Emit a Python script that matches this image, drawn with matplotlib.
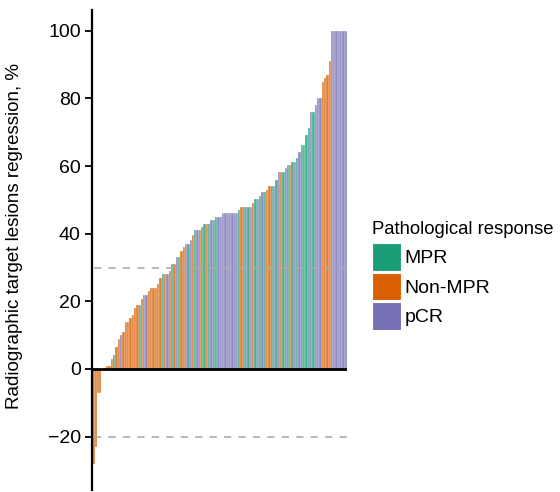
import numpy as np
import matplotlib
matplotlib.use("Agg")
import matplotlib.pyplot as plt
from matplotlib.patches import Patch

plt.rcParams['font.family'] = ['Liberation Sans', 'DejaVu Sans']

# Waterfall values (% regression), sorted ascending
regression = [
    -28, -23, -7, -7, -0.6, -0.4, 1, 1, 2.9, 4.1,
    6.5, 8.9, 10, 11, 14, 14, 15, 16, 18, 19,
    19, 20.7, 22, 22, 23, 24, 24, 24, 25, 27,
    28, 28, 28, 29, 31, 31, 33, 33, 35, 36,
    37, 37, 38, 39.6, 41, 41, 41, 42, 43, 43,
    43, 44, 44, 45, 45, 45, 46, 46, 46, 46,
    46, 46, 46, 47, 48, 48, 48, 48, 48, 49.2,
    50.2, 50.2, 51.2, 52.2, 52.2, 53, 54.2, 54.2, 54.2, 56,
    58.3, 58.3, 58.3, 59.5, 60.2, 60.4, 61.3, 61.3, 62.4, 64.3,
    66.3, 66.3, 69.2, 71.3, 76, 76, 78, 80, 80, 85,
    86, 87, 91.2, 100, 100, 100, 100, 100, 100, 100,
]

# Pathological response per patient (O = Non-MPR, G = MPR, P = pCR)
response = list(
    "OOOOOPOOOG"
    "OOPOOOOOOO"
    "GOPPOOOOOO"
    "GOPOGOPGOO"
    "PGPOGPOGGO"
    "GPGGPPPPPP"
    "PPPGOGPGPO"
    "GPGPGOOGPG"
    "POGPGOGPGP"
    "GGGGPGPPPO"
    "OOOPPPPPPP"
)

categories = ["MPR", "Non-MPR", "pCR"]
code_to_cat = {"G": "MPR", "O": "Non-MPR", "P": "pCR"}
palette = {"MPR": "#1B9E77", "Non-MPR": "#D95F02", "pCR": "#7570B3"}

fig = plt.figure(figsize=(5.6, 4.92), dpi=100)
ax = fig.add_axes([0.164, 0.004, 0.456, 0.976])

x = np.arange(len(regression))
bar_colors = [palette[code_to_cat[c]] for c in response]
ax.bar(x, regression, width=1.0, color=bar_colors, alpha=0.8,
       edgecolor="white", linewidth=0.25)

ax.axhline(0, color="black", linewidth=2, zorder=4)
for yv in (30, -20):
    ax.axhline(yv, xmin=0.01, color="#aaaaaa", linewidth=1.3,
               linestyle=(0, (4, 4)), zorder=5, alpha=0.9)

ax.set_xlim(-0.65, len(regression) - 0.45)
ax.set_ylim(-35.8, 106.2)
ax.set_yticks([-20, 0, 20, 40, 60, 80, 100])
ax.tick_params(axis="y", labelsize=14, length=5, width=1.3,
               direction="out", color="black", pad=3)
ax.set_xticks([])
for side in ("top", "right", "bottom"):
    ax.spines[side].set_visible(False)
ax.spines["left"].set_linewidth(1.6)
ax.set_ylabel("Radiographic target lesions regression, %", fontsize=13.5)
ax.yaxis.set_label_coords(-0.268, 0.53)

handles = [Patch(facecolor=palette[c], edgecolor="white", linewidth=0.8)
           for c in categories]
leg = fig.legend(handles, categories, title="Pathological response",
                 loc="upper left", bbox_to_anchor=(0.651, 0.567),
                 frameon=False, fontsize=14, title_fontsize=13.3,
                 handlelength=1.45, handleheight=1.8, labelspacing=0.1,
                 handletextpad=0.2, borderaxespad=0, alignment="left")
leg._legend_box.sep = 4

fig.savefig("out.png", dpi=100)
